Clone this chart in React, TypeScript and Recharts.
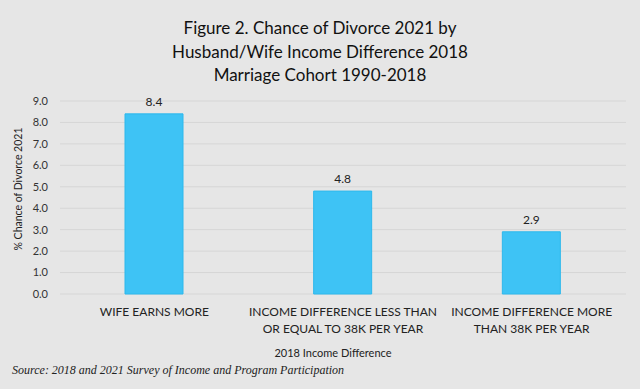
import { BarChart, Bar, XAxis, YAxis, CartesianGrid, LabelList } from "recharts";

const categories = [
  "WIFE EARNS MORE",
  "INCOME DIFFERENCE LESS THAN\nOR EQUAL TO 38K PER YEAR",
  "INCOME DIFFERENCE MORE\nTHAN 38K PER YEAR",
];
const divorceChance = [8.4, 4.8, 2.9];
const yTicks = [0, 1, 2, 3, 4, 5, 6, 7, 8, 9];

const titleLines = [
  "Figure 2. Chance of Divorce 2021 by",
  "Husband/Wife Income Difference 2018",
  "Marriage Cohort 1990-2018",
];

const data = categories.map((c, i) => ({ category: c, value: divorceChance[i] }));

const FONT = "Lato, 'Open Sans', sans-serif";

function CategoryTick(props: any) {
  const { x, y, payload } = props;
  const lines = String(payload.value).split("\n");
  return (
    <text x={x} y={y + 14} textAnchor="middle" fontFamily={FONT} fontSize={12} fill="#222">
      {lines.map((l, i) => (
        <tspan key={i} x={x} dy={i === 0 ? 0 : 17}>
          {l}
        </tspan>
      ))}
    </text>
  );
}

function YLabel() {
  return (
    <text
      transform="translate(18,189) rotate(-90)"
      textAnchor="middle"
      dominantBaseline="central"
      fontFamily={FONT}
      fontSize={10.5}
      fill="#222"
    >
      % Chance of Divorce 2021
    </text>
  );
}

export default function App() {
  return (
    <div
      style={{
        position: "absolute",
        left: 0,
        top: 0,
        width: 640,
        height: 389,
        background: "#e6e6e6",
        fontFamily: FONT,
      }}
    >
      <div
        style={{
          position: "absolute",
          top: 16,
          left: 0,
          width: 640,
          textAlign: "center",
          fontSize: 17,
          lineHeight: "23.5px",
          color: "#111",
        }}
      >
        {titleLines.map((t) => (
          <div key={t}>{t}</div>
        ))}
      </div>
      <BarChart
        width={640}
        height={389}
        data={data}
        margin={{ top: 101, right: 14, bottom: 0, left: 0 }}
        style={{ position: "absolute", left: 0, top: 0 }}
      >
        <CartesianGrid horizontal vertical={false} stroke="#d6d6d6" />
        <YAxis
          width={60}
          domain={[0, 9]}
          ticks={yTicks}
          interval={0}
          axisLine={false}
          tickLine={false}
          tickFormatter={(v: number) => v.toFixed(1)}
          tick={{ fontSize: 11, fill: "#333", fontFamily: FONT }}
          tickMargin={6}
          label={<YLabel />}
        />
        <XAxis
          dataKey="category"
          height={95}
          interval={0}
          axisLine={false}
          tickLine={false}
          tick={<CategoryTick />}
        />
        <Bar dataKey="value" fill="#3ec3f5" stroke="#2db8ec" barSize={58} isAnimationActive={false}>
          <LabelList
            dataKey="value"
            position="top"
            offset={8}
            formatter={(v: any) => Number(v).toFixed(1)}
            style={{ fontSize: 12, fill: "#222", fontFamily: FONT }}
          />
        </Bar>
      </BarChart>
      <div
        style={{
          position: "absolute",
          top: 346,
          left: 233,
          width: 200,
          textAlign: "center",
          fontSize: 11,
          color: "#222",
        }}
      >
        2018 Income Difference
      </div>
      <div
        style={{
          position: "absolute",
          top: 363,
          left: 12,
          fontFamily: "'Liberation Serif', 'DejaVu Serif', serif",
          fontStyle: "italic",
          fontSize: 12,
          color: "#222",
        }}
      >
        Source: 2018 and 2021 Survey of Income and Program Participation
      </div>
    </div>
  );
}
